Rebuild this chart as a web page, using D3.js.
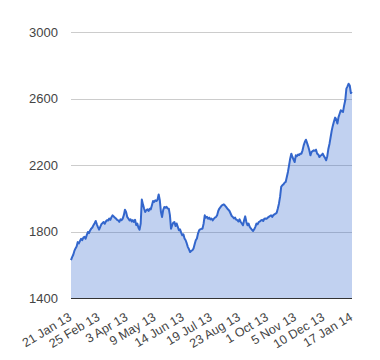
<!DOCTYPE html>
<html>
<head>
<meta charset="utf-8">
<script src="https://cdn.jsdelivr.net/npm/d3@7"></script>
<style>
  html, body { margin: 0; padding: 0; background: #fff; }
  svg { display: block; }
  text { font-family: Arial, "Liberation Sans", sans-serif; }
</style>
</head>
<body>
<div id="chart"></div>
<script>
// Trading-day closing values, 21 Jan 2013 – 17 Jan 2014
const values = [
  1630, 1648, 1662, 1685, 1700, 1712, 1738, 1730, 1745, 1758,
  1750, 1765, 1770, 1758, 1780, 1799, 1792, 1808, 1819, 1826,
  1840, 1852, 1865, 1845, 1828, 1813, 1830, 1845, 1852, 1859,
  1848, 1862, 1870, 1868, 1880, 1872, 1888, 1899, 1892, 1885,
  1880, 1872, 1869, 1860, 1875, 1870, 1879, 1900, 1933, 1920,
  1890, 1880, 1869, 1875, 1862, 1870, 1859, 1872, 1840, 1850,
  1825, 1813, 1850, 1994, 1965, 1940, 1919, 1930, 1935, 1925,
  1939, 1935, 1960, 1985, 1980, 1990, 1985, 1994, 2025, 1990,
  1920, 1889, 1930, 1949, 1945, 1950, 1940, 1939, 1900, 1819,
  1840, 1855, 1859, 1835, 1850, 1830, 1809, 1815, 1795, 1779,
  1785, 1760, 1749, 1730, 1708, 1695, 1678, 1685, 1689, 1700,
  1725, 1749, 1760, 1790, 1809, 1815, 1818, 1819, 1850, 1899,
  1885, 1890, 1879, 1885, 1875, 1880, 1869, 1878, 1885, 1889,
  1900, 1925, 1940, 1949, 1958, 1962, 1965, 1958, 1950, 1940,
  1933, 1925, 1910, 1895, 1889, 1880, 1885, 1873, 1870, 1862,
  1875, 1859, 1850, 1839, 1870, 1893, 1860, 1839, 1850, 1830,
  1820, 1812, 1805, 1815, 1830, 1849, 1845, 1858, 1862, 1869,
  1872, 1865, 1878, 1880, 1879, 1885, 1890, 1895, 1899, 1890,
  1900, 1905, 1909, 1915, 1940, 1969, 2010, 2070, 2080, 2085,
  2095, 2100, 2130, 2160, 2200, 2240, 2270, 2250, 2235, 2220,
  2260, 2255, 2265, 2262, 2270, 2270, 2290, 2320, 2340, 2354,
  2335, 2314, 2290, 2260, 2280, 2285, 2290, 2288, 2294, 2270,
  2265, 2250, 2258, 2262, 2270, 2255, 2245, 2230, 2255, 2300,
  2330, 2370, 2410, 2440, 2465, 2487, 2475, 2451, 2490, 2510,
  2531, 2525, 2521, 2560, 2591, 2661, 2675, 2691, 2680, 2635,
  2641
];
const xTickIndex = [0, 25, 50, 75, 100, 125, 150, 175, 200, 225, 250];
const xTickLabels = ["21 Jan 13", "25 Feb 13", "3 Apr 13", "9 May 13", "14 Jun 13",
  "19 Jul 13", "23 Aug 13", "1 Oct 13", "5 Nov 13", "10 Dec 13", "17 Jan 14"];
const yTicks = [1400, 1800, 2200, 2600, 3000];

const W = 380, H = 360;
const plotL = 71, plotR = 352, plotT = 32.3, plotB = 298.3;

const svg = d3.select("#chart").append("svg").attr("width", W).attr("height", H);

const x = d3.scaleLinear().domain([0, values.length - 1]).range([plotL, plotR]);
const y = d3.scaleLinear().domain([1400, 3000]).range([plotB, plotT]);

// gridlines
svg.append("g").selectAll("line").data(yTicks.filter(d => d !== 1400)).join("line")
  .attr("x1", plotL).attr("x2", plotR)
  .attr("y1", d => Math.round(y(d)) + 0.5).attr("y2", d => Math.round(y(d)) + 0.5)
  .attr("stroke", "#cccccc").attr("stroke-width", 1);

// area
const area = d3.area().x((d, i) => x(i)).y0(y(1400)).y1(d => y(d));
svg.append("path").datum(values).attr("d", area)
  .attr("fill", "#3366cc").attr("fill-opacity", 0.3);

// line
const line = d3.line().x((d, i) => x(i)).y(d => y(d));
svg.append("path").datum(values).attr("d", line)
  .attr("fill", "none").attr("stroke", "#3366cc").attr("stroke-width", 2)
  .attr("stroke-linejoin", "round");

// baseline
svg.append("line").attr("x1", plotL).attr("x2", plotR)
  .attr("y1", Math.round(y(1400)) + 0.5).attr("y2", Math.round(y(1400)) + 0.5)
  .attr("stroke", "#333333").attr("stroke-width", 1);

// y axis
const yAxis = d3.axisLeft(y).tickValues(yTicks).tickSize(0).tickPadding(13).tickFormat(d3.format("d"));
const gy = svg.append("g").attr("transform", `translate(${plotL},0)`).call(yAxis);
gy.select(".domain").remove();
gy.selectAll("text").attr("font-size", 13).attr("fill", "#444444")
  .attr("font-family", "Arial, 'Liberation Sans', sans-serif");

// x axis
const xAxis = d3.axisBottom(x).tickValues(xTickIndex).tickSize(0)
  .tickFormat((d, i) => xTickLabels[i]);
const gx = svg.append("g").attr("transform", `translate(0,${plotB})`).call(xAxis);
gx.select(".domain").remove();
gx.selectAll("text")
  .attr("font-size", 12.5).attr("fill", "#444444")
  .attr("font-family", "Arial, 'Liberation Sans', sans-serif")
  .attr("text-anchor", "end")
  .attr("dy", null).attr("y", null)
  .attr("transform", "translate(1,21) rotate(-31)");
</script>
</body>
</html>
